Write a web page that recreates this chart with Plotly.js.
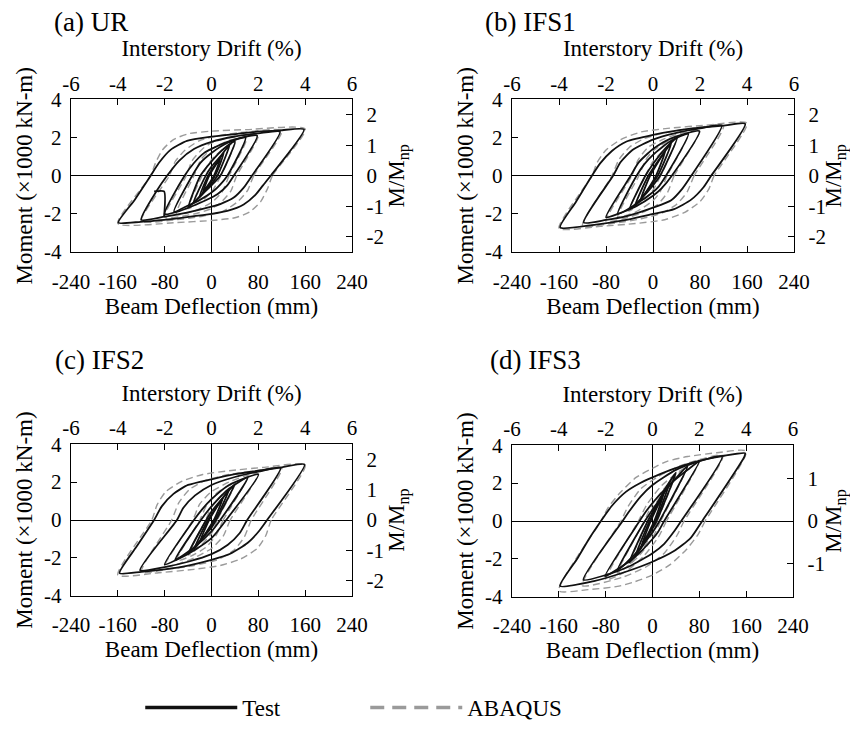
<!DOCTYPE html>
<html>
<head>
<meta charset="utf-8">
<script src="https://cdn.plot.ly/plotly-3.0.1.min.js"></script>
<style>
html,body{margin:0;padding:0;background:#fff;}
#chart{width:850px;height:729px;}
</style>
</head>
<body>
<div id="chart"></div>
<script>
// ---------- labels & ticks ----------
const panelTitles = ['(a) UR', '(b) IFS1', '(c) IFS2', '(d) IFS3'];
const deflTicks = [-240, -160, -80, 0, 80, 160, 240];
const deflLabels = ['-240', '-160', '-80', '0', '80', '160', '240'];
const driftTicks = [-6, -4, -2, 0, 2, 4, 6];
const driftLabels = ['-6', '-4', '-2', '0', '2', '4', '6'];
const momentTicks = [-4, -2, 0, 2, 4];
const momentLabels = ['-4', '-2', '0', '2', '4'];
const ratioTicks = [-2, -1, 0, 1, 2];
const ratioLabels = ['-2', '-1', '0', '1', '2'];
const seriesNames = ['Test', 'ABAQUS'];

// ---------- (a) UR : beam deflection (mm) vs moment (x1000 kN-m) ----------
const urTestX = [15,4,-15,-4,15, null,
  21,6,-21,-6,21, null,
  31,10,0,-16,-31,-10,0,16,31, null,
  40,15,0,-19,-39,-19,0,21,40, null,
  58,27,10,0,-19,-47,-64,-33,-19,0,27,58, null,
  78,38,27,10,0,-24,-53,-80,-46,-30,-13,0,32,78, null,
  117,69,55,38,15,0,-42,-80,-120,-93,-76,-55,-30,0,40,80,117, null,
  -98,-81,-81, null,
  158,101,88,75,55,27,0,-42,-81,-121,-159,-131,-104,-90,-70,-42,0,44,78,117,158];
const urTestY = [0.9,0,-0.88,0,0.9, null,
  1.2,0,-1.15,0,1.2, null,
  1.62,0,-0.42,-0.97,-1.42,0,0.48,1.05,1.62, null,
  1.8,0,-0.5,-1.05,-1.62,0,0.76,1.42,1.8, null,
  2.0,0,-0.62,-0.88,-1.25,-1.66,-1.88,0,0.68,1.2,1.72,2.0, null,
  2.1,0,-0.5,-0.97,-1.14,-1.48,-1.83,-2.0,0,0.67,1.19,1.41,1.83,2.1, null,
  2.31,0,-0.62,-1.14,-1.48,-1.62,-1.93,-2.14,-2.3,-0.76,0,0.8,1.4,1.78,2.06,2.22,2.31, null,
  -0.82,-0.82,-2.14, null,
  2.43,0,-0.5,-1.0,-1.5,-1.84,-2.0,-2.17,-2.31,-2.41,-2.45,-1.25,0,0.67,1.36,1.83,2.05,2.2,2.31,2.38,2.43];
const urFemX = [40,16,0,-20,-40,-16,0,20,40, null,
  60,30,18,0,-30,-60,-30,-18,0,30,60, null,
  80,43,33,15,0,-30,-80,-43,-33,-15,0,30,80, null,
  120,72,62,45,20,-15,-60,-120,-72,-62,-45,-20,15,60,120, null,
  160,104,96,84,65,40,0,-60,-160,-104,-96,-84,-65,-40,0,60,160];
const urFemY = [1.75,0,-0.85,-1.4,-1.72,0,0.85,1.4,1.75, null,
  2.0,0,-0.85,-1.4,-1.85,-2.02,0,0.85,1.4,1.85,2.0, null,
  2.17,0,-0.8,-1.42,-1.72,-2.0,-2.17,0,0.8,1.42,1.72,2.0,2.17, null,
  2.36,0,-0.75,-1.35,-1.85,-2.12,-2.3,-2.38,0,0.75,1.35,1.85,2.12,2.3,2.36, null,
  2.45,0,-0.65,-1.35,-1.9,-2.2,-2.34,-2.45,-2.5,0,0.65,1.35,1.9,2.2,2.34,2.42,2.45];

// ---------- (b) IFS1 ----------
const ifs1TestX = [21,5,-21,-5,21, null,
  31,8,-31,-8,31, null,
  41,12,0,-20,-40,-13,0,20,41, null,
  60,22,10,0,-30,-60,-28,-15,0,30,60, null,
  79,32,15,0,-30,-60,-80,-38,-25,0,30,79, null,
  117,65,50,31,0,-43,-80,-118,-68,-55,-35,0,40,80,117, null,
  157,99,86,65,36,0,-43,-100,-158,-131,-104,-90,-70,-45,0,40,80,120,157];
const ifs1TestY = [1.3,0,-1.25,0,1.3, null,
  1.7,0,-1.6,0,1.7, null,
  2.0,0,-0.5,-1.2,-1.75,0,0.62,1.4,2.0, null,
  2.2,0,-0.55,-0.85,-1.5,-2.0,0,0.6,1.1,1.82,2.2, null,
  2.34,0,-0.65,-1.05,-1.62,-2.0,-2.17,0,0.68,1.4,1.95,2.34, null,
  2.64,0,-0.67,-1.28,-1.67,-2.1,-2.31,-2.45,0,0.72,1.35,1.9,2.25,2.48,2.64, null,
  2.72,0,-0.6,-1.25,-1.75,-2.0,-2.3,-2.57,-2.71,-1.36,0,0.65,1.3,1.8,2.15,2.37,2.52,2.63,2.72];
const ifs1FemX = [41,13,0,-20,-41,-13,0,20,41, null,
  60,24,12,0,-30,-60,-24,-12,0,30,60, null,
  80,36,25,8,-20,-50,-80,-36,-25,-8,20,50,80, null,
  120,70,58,40,15,-20,-70,-120,-70,-58,-40,-15,20,70,120, null,
  160,104,95,80,55,20,-30,-90,-160,-104,-95,-80,-55,-20,30,90,160];
const ifs1FemY = [2.0,0,-0.75,-1.4,-1.85,0,0.75,1.4,2.0, null,
  2.2,0,-0.85,-1.3,-1.9,-2.15,0,0.85,1.3,1.9,2.2, null,
  2.4,0,-0.85,-1.5,-1.95,-2.25,-2.38,0,0.85,1.5,1.95,2.25,2.4, null,
  2.62,0,-0.85,-1.5,-1.95,-2.25,-2.5,-2.62,0,0.85,1.5,1.95,2.25,2.5,2.62, null,
  2.75,0,-0.7,-1.35,-1.9,-2.3,-2.5,-2.65,-2.75,0,0.7,1.35,1.9,2.3,2.5,2.65,2.75];

// ---------- (c) IFS2 ----------
const ifs2TestX = [20,4,-20,-4,20, null,
  30,6,-30,-6,30, null,
  40,8,0,-20,-40,-9,0,20,40, null,
  62,15,0,-30,-62,-18,0,30,62, null,
  80,25,10,0,-30,-60,-80,-30,-15,0,30,80, null,
  118,61,48,28,0,-40,-80,-122,-59,-48,-28,0,40,80,118, null,
  159,95,82,62,32,0,-40,-80,-120,-157,-128,-98,-85,-65,-40,0,40,80,120,159];
const ifs2TestY = [1.2,0,-1.15,0,1.2, null,
  1.6,0,-1.55,0,1.6, null,
  1.9,0,-0.4,-1.1,-1.8,0,0.45,1.2,1.9, null,
  2.25,0,-0.6,-1.45,-2.1,0,0.72,1.65,2.25, null,
  2.4,0,-0.6,-0.95,-1.6,-2.1,-2.35,0,0.6,1.1,1.85,2.4, null,
  2.75,0,-0.7,-1.3,-1.8,-2.2,-2.48,-2.65,0,0.65,1.3,1.85,2.27,2.55,2.75, null,
  2.93,0,-0.55,-1.2,-1.78,-2.1,-2.4,-2.6,-2.73,-2.8,-1.4,0,0.72,1.38,1.85,2.15,2.42,2.6,2.78,2.93];
const ifs2FemX = [40,10,0,-20,-40,-10,0,20,40, null,
  60,20,8,-10,-35,-60,-20,-8,10,35,60, null,
  80,32,20,0,-30,-55,-80,-32,-20,0,30,55,80, null,
  120,68,56,38,10,-30,-75,-120,-68,-56,-38,-10,30,75,120, null,
  160,102,93,78,50,15,-30,-90,-160,-102,-93,-78,-50,-15,30,90,160];
const ifs2FemY = [1.9,0,-0.7,-1.4,-1.85,0,0.7,1.4,1.9, null,
  2.2,0,-0.8,-1.45,-1.9,-2.15,0,0.8,1.45,1.9,2.2, null,
  2.45,0,-0.85,-1.5,-2.0,-2.3,-2.45,0,0.85,1.5,2.0,2.3,2.45, null,
  2.75,0,-0.9,-1.6,-2.1,-2.4,-2.6,-2.75,0,0.9,1.6,2.1,2.4,2.6,2.75, null,
  2.9,0,-0.8,-1.5,-2.05,-2.4,-2.6,-2.78,-2.9,0,0.8,1.5,2.05,2.4,2.6,2.78,2.9];

// ---------- (d) IFS3 ----------
const ifs3TestX = [20,3,-20,-3,20, null,
  30,5,-30,-5,30, null,
  40,7,0,-20,-40,-8,0,20,40, null,
  60,12,0,-30,-60,-13,0,30,60, null,
  80,20,10,0,-30,-60,-81,-22,-10,0,30,60,80, null,
  119,49,38,20,0,-40,-80,-118,-51,-40,-20,0,40,80,119, null,
  158,157,85,65,36,0,-43,-100,-158,-128,-108,-88,-70,-45,-20,0,30,57,90,120,158];
const ifs3TestY = [1.5,0,-1.4,0,1.5, null,
  2.1,0,-1.9,0,2.1, null,
  2.55,0,-0.4,-1.45,-2.2,0,0.45,1.6,2.55, null,
  2.9,0,-0.6,-1.75,-2.6,0,0.6,1.9,2.9, null,
  3.15,0,-0.55,-0.95,-1.9,-2.55,-2.91,0,0.55,0.95,1.95,2.7,3.15, null,
  3.41,0,-0.5,-1.2,-1.7,-2.4,-2.85,-3.1,0,0.5,1.3,1.9,2.7,3.15,3.41, null,
  3.58,3.4,0,-0.9,-1.6,-2.15,-2.65,-3.17,-3.43,-1.96,-0.92,0,0.78,1.55,2.02,2.3,2.68,2.98,3.25,3.43,3.58];
const ifs3FemX = [40,8,0,-20,-40,-8,0,20,40, null,
  60,14,0,-25,-60,-14,0,25,60, null,
  80,24,10,-15,-45,-80,-24,-10,15,45,80, null,
  120,54,42,20,-10,-50,-120,-54,-42,-20,10,50,120, null,
  160,90,78,58,30,0,-30,-60,-110,-160,-88,-75,-55,-28,0,25,60,110,160];
const ifs3FemY = [2.5,0,-0.65,-1.6,-2.3,0,0.65,1.6,2.5, null,
  2.9,0,-0.9,-1.9,-2.75,0,0.9,1.9,2.9, null,
  3.2,0,-0.85,-1.85,-2.65,-3.1,0,0.85,1.85,2.6,3.2, null,
  3.45,0,-0.75,-1.7,-2.4,-2.95,-3.4,0,0.75,1.7,2.35,2.95,3.45, null,
  3.68,0,-0.7,-1.5,-2.3,-2.85,-3.2,-3.45,-3.62,-3.68,0,0.75,1.5,2.3,2.78,3.15,3.4,3.6,3.68];

// ---------- styling / layout ----------
const FONT = 'Liberation Serif';
const BLACK = '#111111';
const GRAY = '#9a9a9a';
const W = 850, H = 729;

const panels = [
  {title: panelTitles[0], tx: urTestX, ty: urTestY, fx: urFemX, fy: urFemY,
   px: [71, 352], py: [101, 256], ratio: 2.5, tpos: [52, 22]},
  {title: panelTitles[1], tx: ifs1TestX, ty: ifs1TestY, fx: ifs1FemX, fy: ifs1FemY,
   px: [512, 794], py: [101, 256], ratio: 2.5, tpos: [483, 22]},
  {title: panelTitles[2], tx: ifs2TestX, ty: ifs2TestY, fx: ifs2FemX, fy: ifs2FemY,
   px: [71, 352], py: [451, 605], ratio: 2.5, tpos: [53, 366]},
  {title: panelTitles[3], tx: ifs3TestX, ty: ifs3TestY, fx: ifs3FemX, fy: ifs3FemY,
   px: [512, 793], py: [452, 606], ratio: 1.8, tpos: [488, 366]}
];

function tickFont() { return {family: FONT, size: 21, color: '#000'}; }
function titleFont() { return {family: FONT, size: 23, color: '#000'}; }
function common() {
  return {
    ticks: 'inside', ticklen: 6, tickwidth: 1, tickcolor: '#000',
    showline: true, linecolor: '#000', linewidth: 1.3,
    showgrid: false, fixedrange: true, tickmode: 'array',
    tickfont: tickFont()
  };
}

const data = [];
const layout = {
  width: W, height: H,
  margin: {l: 0, r: 0, t: 0, b: 0},
  paper_bgcolor: '#fff', plot_bgcolor: '#fff',
  font: {family: FONT, color: '#000'},
  showlegend: true,
  hovermode: false,
  annotations: [],
  legend: {
    orientation: 'h', x: 0.165, y: 0.014, xanchor: 'left', yanchor: 'middle',
    font: {family: FONT, size: 23, color: '#000'},
    itemwidth: 92,
    entrywidth: 118, entrywidthmode: 'pixels',
    bgcolor: 'rgba(0,0,0,0)'
  }
};

panels.forEach((p, i) => {
  const n = i * 2 + 1;
  const xb = n === 1 ? 'x' : 'x' + n;
  const yl = n === 1 ? 'y' : 'y' + n;
  const xt = 'x' + (n + 1);
  const yr = 'y' + (n + 1);
  const xbKey = n === 1 ? 'xaxis' : 'xaxis' + n;
  const ylKey = n === 1 ? 'yaxis' : 'yaxis' + n;
  const xdom = [p.px[0] / W, p.px[1] / W];
  const ydom = [(H - p.py[1]) / H, (H - p.py[0]) / H];

  layout[xbKey] = Object.assign(common(), {
    domain: xdom, anchor: yl, range: [-240, 240],
    tickvals: deflTicks, ticktext: deflLabels,
    zeroline: true, zerolinecolor: '#000', zerolinewidth: 1,
    ticklabelstandoff: 10,
    title: {text: 'Beam Deflection (mm)', font: titleFont(), standoff: 0}
  });
  layout['xaxis' + (n + 1)] = Object.assign(common(), {
    overlaying: xb, anchor: yl, side: 'top', range: [-6, 6],
    tickvals: driftTicks, ticktext: driftLabels, zeroline: false,
    ticklabelstandoff: -1,
    title: {text: 'Interstory Drift (%)', font: titleFont(), standoff: 8}
  });
  layout[ylKey] = Object.assign(common(), {
    domain: ydom, anchor: xb, range: [-4, 4],
    tickvals: momentTicks, ticktext: momentLabels,
    zeroline: true, zerolinecolor: '#000', zerolinewidth: 1,
    ticklabelstandoff: 4,
    title: {text: 'Moment (×1000 kN-m)', font: titleFont(), standoff: 5}
  });
  layout['yaxis' + (n + 1)] = Object.assign(common(), {
    overlaying: yl, anchor: xb, side: 'right', range: [-p.ratio, p.ratio],
    tickvals: ratioTicks, ticktext: ratioLabels, zeroline: false,
    ticklabelstandoff: 9,
    title: {text: 'M/M<sub>np</sub>', font: titleFont(), standoff: 2}
  });

  data.push({
    type: 'scatter', mode: 'lines', x: p.fx, y: p.fy, xaxis: xb, yaxis: yl,
    name: seriesNames[1], showlegend: false, connectgaps: false,
    line: {color: GRAY, width: 1.4, dash: '7px,4px', shape: 'spline', smoothing: 0.6}
  });
  data.push({
    type: 'scatter', mode: 'lines', x: p.tx, y: p.ty, xaxis: xb, yaxis: yl,
    name: seriesNames[0], showlegend: false, connectgaps: false,
    line: {color: BLACK, width: 1.8, shape: 'spline', smoothing: 0.6}
  });
  // empty traces so the secondary (drift / M/Mnp) axes are drawn
  data.push({type: 'scatter', mode: 'lines', x: [null], y: [null], xaxis: xt, yaxis: yl,
    showlegend: false, hoverinfo: 'skip'});
  data.push({type: 'scatter', mode: 'lines', x: [null], y: [null], xaxis: xb, yaxis: yr,
    showlegend: false, hoverinfo: 'skip'});

  layout.annotations.push({
    text: p.title, xref: 'paper', yref: 'paper',
    x: p.tpos[0] / W, y: (H - p.tpos[1]) / H, xanchor: 'left', yanchor: 'middle',
    showarrow: false, font: {family: FONT, size: 27, color: '#000'}
  });
});

// legend-only entries
data.push({type: 'scatter', mode: 'lines', x: [null], y: [null], name: seriesNames[0],
  line: {color: BLACK, width: 3.4}, showlegend: true});
data.push({type: 'scatter', mode: 'lines', x: [null], y: [null], name: seriesNames[1],
  line: {color: GRAY, width: 3.4, dash: '14px,8px'}, showlegend: true});

Plotly.newPlot('chart', data, layout, {staticPlot: true, displayModeBar: false});
</script>
</body>
</html>
